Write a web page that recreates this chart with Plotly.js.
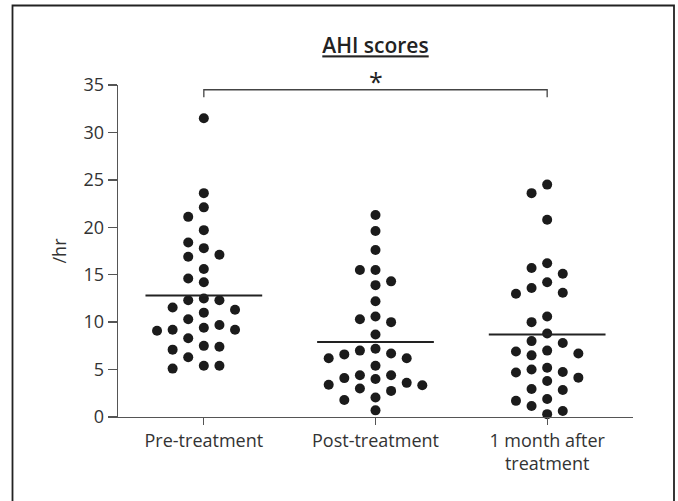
<!DOCTYPE html>
<html>
<head>
<meta charset="utf-8">
<script src="https://cdn.plot.ly/plotly-3.0.1.min.js"></script>
<style>html,body{margin:0;padding:0;background:#fff;}#chart{width:678px;height:501px;}</style>
</head>
<body>
<div id="chart"></div>
<script>
// ---- data ----
var categories = ['Pre-treatment', 'Post-treatment', '1 month after<br>treatment'];
var preValues = [31.5, 23.6, 22.1, 21.1, 19.7, 18.4, 17.8, 17.1, 16.9, 15.6, 14.6, 14.2,
                 12.5, 12.3, 12.3, 11.3, 11.0, 11.55, 10.3, 9.7, 9.2, 9.1, 9.4, 9.2,
                 8.3, 7.4, 7.1, 7.5, 6.3, 5.4, 5.1, 5.4];
var postValues = [21.3, 19.6, 17.6, 15.5, 15.5, 14.3, 13.9, 12.2, 10.3, 10.6, 10.0, 8.7,
                  7.2, 6.7, 6.2, 6.2, 6.6, 7.0, 5.4, 4.0, 3.4, 4.1, 4.4, 4.4, 3.35, 3.6,
                  3.0, 2.75, 2.05, 1.8, 0.7];
var monthValues = [24.5, 23.6, 20.8, 16.2, 15.7, 15.1, 14.2, 13.6, 13.0, 13.1, 10.6, 10.0,
                   8.8, 8.0, 7.8, 7.0, 6.7, 6.5, 6.9, 5.0, 4.7, 5.2, 4.75, 3.8, 4.15,
                   2.85, 2.95, 1.9, 1.7, 1.16, 0.63, 0.3];
var meanValues = [12.8, 7.9, 8.7];
var yTickValues = [0, 5, 10, 15, 20, 25, 30, 35];
var sigPair = [0, 2];
var sigLabel = '*';
var chartTitle = 'AHI scores';
var yTitle = '/hr';

// ---- layout geometry ----
var W = 678, H = 501;
var margin = {l: 118, r: 45, t: 85, b: 84};
var xRange = [-0.5, 2.5], yRange = [0, 35];
var pxPerX = (W - margin.l - margin.r) / (xRange[1] - xRange[0]);
var pxPerY = (H - margin.t - margin.b) / (yRange[1] - yRange[0]);

// simple column beeswarm: columns a dot-width apart, stacking by value
function swarm(values, center) {
  var step = 15.6 / pxPerX;
  var minGap = 12.5 / pxPerY;
  var order = values.map(function (v, i) { return i; })
    .sort(function (a, b) { return values[b] - values[a]; });
  var last = {};
  var xs = new Array(values.length);
  var cand = [0];
  for (var k = 1; k < 12; k++) { cand.push(-k); cand.push(k); }
  order.forEach(function (i) {
    var v = values[i];
    for (var c = 0; c < cand.length; c++) {
      var col = cand[c];
      if (last[col] === undefined || last[col] - v >= minGap) {
        last[col] = v;
        xs[i] = center + col * step;
        break;
      }
    }
  });
  return xs;
}

var groups = [preValues, postValues, monthValues];
var dotColor = '#1b1b1b';
var traces = [];
groups.forEach(function (vals, gi) {
  traces.push({
    type: 'scatter', mode: 'markers',
    x: swarm(vals, gi), y: vals,
    marker: {size: 10, color: dotColor, line: {width: 0}},
    cliponaxis: false, hoverinfo: 'skip', showlegend: false
  });
});
meanValues.forEach(function (m, gi) {
  traces.push({
    type: 'scatter', mode: 'lines',
    x: [gi - 0.34, gi + 0.34], y: [m, m],
    line: {color: '#222', width: 2},
    hoverinfo: 'skip', showlegend: false
  });
});

var fontFam = '"Open Sans", "Noto Sans", sans-serif';
var txtColor = '#333';
var bracketTop = 34.5, bracketLow = 33.7;

// paper coords of frame
function paperX(px) { return (px - margin.l) / (W - margin.l - margin.r); }
function paperY(py) { return (H - margin.b - py) / (H - margin.t - margin.b); }

var layout = {
  width: W, height: H,
  margin: margin,
  paper_bgcolor: '#fff', plot_bgcolor: '#fff',
  showlegend: false,
  title: {
    text: chartTitle,
    x: 0.5, xref: 'paper', xanchor: 'center',
    y: 1 - 46 / H, yref: 'container', yanchor: 'middle',
    font: {family: fontFam, size: 21, color: '#222', weight: 600, lineposition: 'under'}
  },
  xaxis: {
    range: xRange, tickmode: 'array', tickvals: [0, 1, 2], ticktext: categories,
    showline: true, linecolor: '#555', linewidth: 1.3,
    ticks: 'outside', ticklen: 7, tickcolor: '#555', tickwidth: 1.3,
    showgrid: false, zeroline: false, fixedrange: true,
    tickfont: {family: fontFam, size: 18, color: txtColor}
  },
  yaxis: {
    range: yRange, tickmode: 'array', tickvals: yTickValues,
    showline: true, linecolor: '#555', linewidth: 1.3,
    ticks: 'outside', ticklen: 9, tickcolor: '#555', tickwidth: 1.3,
    showgrid: false, zeroline: false, fixedrange: true,
    tickfont: {family: fontFam, size: 18, color: txtColor},
    title: {text: yTitle, standoff: 12, font: {family: fontFam, size: 18, color: txtColor}}
  },
  shapes: [
    {
      type: 'path', xref: 'x', yref: 'y',
      path: 'M' + sigPair[0] + ',' + bracketLow + ' L' + sigPair[0] + ',' + bracketTop +
            ' L' + sigPair[1] + ',' + bracketTop + ' L' + sigPair[1] + ',' + bracketLow,
      line: {color: '#444', width: 1.3}
    },
    {
      type: 'path', xref: 'paper', yref: 'paper',
      path: 'M' + paperX(12.5) + ',' + paperY(520) + ' L' + paperX(12.5) + ',' + paperY(5.5) +
            ' L' + paperX(674) + ',' + paperY(5.5) + ' L' + paperX(674) + ',' + paperY(520),
      line: {color: '#222', width: 1.8}
    }
  ],
  annotations: [
    {
      x: (sigPair[0] + sigPair[1]) / 2, y: bracketTop, xref: 'x', yref: 'y',
      text: sigLabel, showarrow: false, yanchor: 'middle', yshift: 9,
      font: {family: fontFam, size: 25, color: '#222'}
    }
  ]
};

Plotly.newPlot('chart', traces, layout, {displayModeBar: false, staticPlot: true});
</script>
</body>
</html>
